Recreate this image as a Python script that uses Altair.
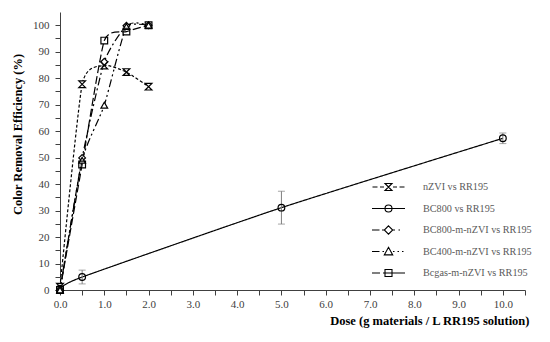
import altair as alt
import pandas as pd

series = ["nZVI vs RR195", "BC800 vs RR195", "BC800-m-nZVI vs RR195",
          "BC400-m-nZVI vs RR195", "Bcgas-m-nZVI vs RR195"]
dose_short = [0.0, 0.5, 1.0, 1.5, 2.0]
dose_bc800 = [0.0, 0.5, 5.0, 10.0]
nzvi = [1.2, 77.7, 84.8, 82.3, 76.8]
bc800 = [0.5, 4.9, 31.1, 57.3]
bc800_err = [1.5, 2.6, 6.2, 2.0]
bc800_m = [0.0, 49.9, 86.2, 99.8, 100.0]
bc400_m = [0.0, 49.0, 69.8, 99.5, 100.0]
bcgas_m = [0.0, 47.4, 94.2, 97.6, 100.0]

x_ticks = [i * 0.5 for i in range(22)]
y_ticks = [i * 5 for i in range(21)]

rows = []
for s, xs, ys in [(series[0], dose_short, nzvi), (series[1], dose_bc800, bc800),
                  (series[2], dose_short, bc800_m), (series[3], dose_short, bc400_m),
                  (series[4], dose_short, bcgas_m)]:
    for xv, yv in zip(xs, ys):
        rows.append({"series": s, "dose": xv, "eff": yv})
df = pd.DataFrame(rows)

err_df = pd.DataFrame({"dose": dose_bc800,
                       "lo": [v - e for v, e in zip(bc800, bc800_err)],
                       "hi": [v + e for v, e in zip(bc800, bc800_err)]})
cap_df = pd.DataFrame({"dose": dose_bc800 + dose_bc800,
                       "eff": list(err_df["lo"]) + list(err_df["hi"])})

XT = "Dose (g materials / L RR195 solution)"
YT = "Color Removal Efficiency (%)"
FONT = "Liberation Serif"

def xenc(field):
    return alt.X(f"{field}:Q", title=XT,
                 scale=alt.Scale(domain=[0, 10.5], nice=False, zero=False),
                 axis=alt.Axis(values=x_ticks, labelExpr="datum.value % 1 === 0 ? format(datum.value, '.1f') : ''",
                               labelOverlap=False, labelFlush=False, tickSize=5, labelPadding=3,
                               titleAnchor="end", titleAlign="right", titleX=469, titleY=34,
                               titleBaseline="alphabetic"))

def yenc(field):
    return alt.Y(f"{field}:Q", title=YT,
                 scale=alt.Scale(domain=[0, 105], nice=False),
                 axis=alt.Axis(values=y_ticks, labelExpr="datum.value % 10 === 0 ? datum.label : ''",
                               labelOverlap=False, labelFlush=False, tickSize=5, labelPadding=6,
                               titleX=-43, titleY=122, titleAngle=270, titleAlign="center",
                               titleBaseline="middle"))

dashes = [[3, 2], [1, 0], [8, 3, 2, 3], [8, 3, 2, 3, 2, 3], [8, 3]]
fills = ["white", "transparent", "white", "white", "transparent"]
shapes = ["M-1,-1H1L-1,1H1Z", "circle", "diamond", "triangle-up", "square"]

R = 16.5
def seg(a, b):
    return f"M{a / R:.3f},0H{b / R:.3f}"
m = 3.5 / R
d = 4.2 / R
t = 4.2 / R
circ = f"M{m:.3f},0A{m:.3f},{m:.3f},0,1,1,{-m:.3f},0A{m:.3f},{m:.3f},0,1,1,{m:.3f},0"
diam = f"M0,{-d:.3f}L{d:.3f},0L0,{d:.3f}L{-d:.3f},0Z"
tri = f"M0,{-t:.3f}L{t:.3f},{0.8 * t:.3f}L{-t:.3f},{0.8 * t:.3f}Z"
sq = f"M{-m:.3f},{-m:.3f}H{m:.3f}V{m:.3f}H{-m:.3f}Z"
hg = f"M{-m:.3f},{-m:.3f}H{m:.3f}L{-m:.3f},{m:.3f}H{m:.3f}Z"
legend_shapes = [
    seg(-16, -11) + seg(-8.5, -4.5) + seg(4.5, 8.5) + seg(11, 16) + hg,
    seg(-16.5, 16.5) + circ,
    seg(-16.5, -9) + seg(-6.5, -4.2) + seg(4.2, 6.5) + seg(10, 11.5) + diam,
    seg(-16.5, -9) + seg(-6, -4.5) + seg(4.5, 6) + seg(9, 10.5) + seg(13.5, 15) + tri,
    seg(-16.5, -8.5) + seg(-5.5, 16.5) + sq,
]

base = alt.Chart(df)

lines = base.mark_line(interpolate="cardinal", tension=0.45, color="black", strokeWidth=1.2).encode(
    x=xenc("dose"), y=yenc("eff"),
    strokeDash=alt.StrokeDash("series:N", scale=alt.Scale(domain=series, range=dashes), legend=None),
)

bars = alt.Chart(err_df).mark_rule(color="#7f7f7f", strokeWidth=1).encode(
    x=xenc("dose"), y=yenc("lo"), y2="hi:Q")
caps = alt.Chart(cap_df).mark_tick(orient="horizontal", size=7, thickness=1, color="#7f7f7f").encode(
    x=xenc("dose"), y=yenc("eff"))

points = base.mark_point(filled=True, stroke="black", strokeWidth=1.2, size=45, opacity=1).encode(
    x=xenc("dose"), y=yenc("eff"),
    fill=alt.Fill("series:N", scale=alt.Scale(domain=series, range=fills), legend=None),
    shape=alt.Shape("series:N", scale=alt.Scale(domain=series, range=shapes), legend=None),
)

legend_layer = base.mark_point(filled=False, color="black", opacity=0, size=10).encode(
    x=xenc("dose"), y=yenc("eff"),
    shape=alt.Shape("series:N", scale=alt.Scale(domain=series, range=legend_shapes),
                    legend=alt.Legend(title=None, orient="none", legendX=311, legendY=168,
                                      symbolSize=1089, clipHeight=14, rowPadding=7.5,
                                      labelOffset=17, labelFont=FONT, labelFontSize=10.2,
                                      labelColor="#595959", symbolStrokeWidth=1.1,
                                      symbolStrokeColor="black", symbolFillColor="transparent",
                                      symbolOpacity=1, padding=0, labelLimit=300)),
)

chart = alt.layer(lines, bars, caps, points, legend_layer).resolve_scale(
    shape="independent").resolve_legend(shape="independent").properties(
    width=465, height=278,
    autosize=alt.AutoSizeParams(type="none"),
    padding={"left": 52, "top": 4, "right": 15, "bottom": 45},
).configure_view(stroke=None).configure_axis(
    grid=False, domainColor="#404040", tickColor="#404040", labelColor="#404040",
    labelFont=FONT, labelFontSize=11, titleFont=FONT, titleFontSize=12.5,
    titleFontWeight="bold", titleColor="black", domainWidth=1, tickWidth=1,
)

chart.save("out.html", embed_options={"renderer": "svg", "actions": False})
